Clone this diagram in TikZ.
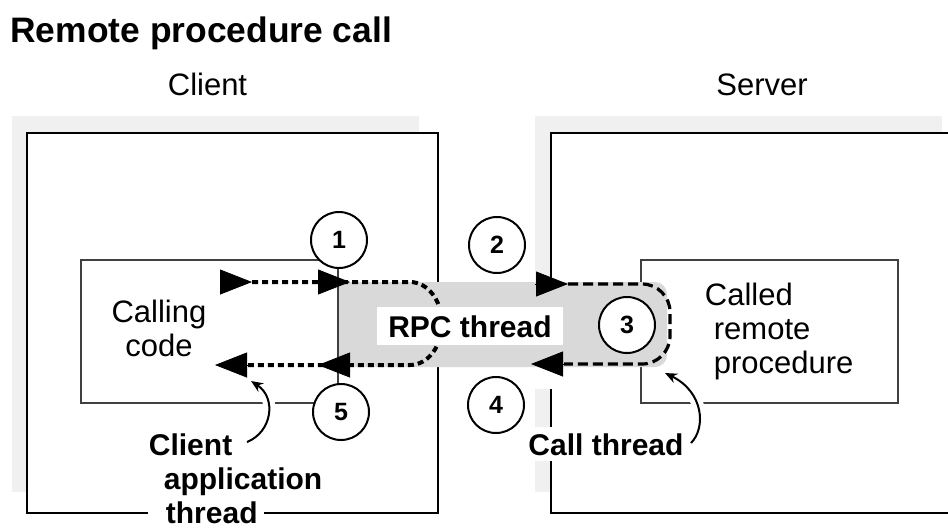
\documentclass[tikz,border=0pt]{standalone}
\usepackage{fontspec}
\setmainfont{Liberation Sans}
\usetikzlibrary{arrows.meta}

\definecolor{shadegray}{RGB}{240,240,240}
\definecolor{bandgray}{RGB}{217,217,217}
\definecolor{boxgray}{RGB}{64,64,64}

\tikzset{
  outerbox/.style={draw=black,line width=1.2pt,fill=white},
  innerbox/.style={draw=boxgray,line width=1.3pt,fill=white},
  numcircle/.style={circle,draw,line width=1pt,fill=white,minimum size=28pt,inner sep=0pt,
    font=\fontsize{12.5}{14}\selectfont\bfseries},
  plaintxt/.style={inner sep=0pt,font=\fontsize{15.5}{17}\selectfont},
  boldtxt/.style={inner sep=0pt,font=\fontsize{15}{17}\selectfont\bfseries},
  tiphead/.style={-{Triangle[length=16pt,width=12.5pt]}},
  dotline/.style={line width=2pt,dash pattern=on 3pt off 2pt},
  dashline/.style={line width=1.6pt,dash pattern=on 5pt off 2.5pt},
  pointer/.style={line width=1pt,-{Stealth[length=6pt,width=5pt]},
    preaction={draw=white,line width=6pt}}
}

\begin{document}
\begin{tikzpicture}[x=0.5pt,y=-0.5pt]
  \useasboundingbox (0,0) rectangle (948,527);
  \fill[shadegray] (12,116) rectangle (419,492);
  \fill[shadegray] (535,116) rectangle (942,492);
  \draw[outerbox] (27,133) rectangle (438,513);
  \draw[outerbox] (551,133) rectangle (970,513);
  \fill[white] (530,367) rectangle (560,389);
  \draw[innerbox] (641,260) rectangle (898,403);
  \fill[bandgray,rounded corners=6pt] (300,282) rectangle (667,367);
  \draw[innerbox] (81,260) rectangle (338,403);
  \fill[white] (148,503) rectangle (264,527);

  \coordinate (appfrom) at (247,442);
  \coordinate (appto) at (251,381);
  \coordinate (callfrom) at (691,443);
  \coordinate (callto) at (665,373);
  \draw[pointer] (appfrom) .. controls (272,432) and (277,398) .. (appto);
  \draw[pointer] (callfrom) .. controls (706,428) and (704,392) .. (callto);

  \draw[dotline] (252,282) -- (410,282) .. controls (428,282) and (442,301) .. (442,323.5)
    .. controls (442,346) and (428,365) .. (410,365) -- (248,365);
  \draw[tiphead] (220,282) -- (252,282);
  \draw[tiphead] (318,282) -- (350,282);
  \draw[tiphead] (350,365) -- (318,365);
  \draw[tiphead] (248,365) -- (215,365);

  \draw[dashline,rounded corners=14pt] (568,284) -- (670,284) -- (670,364) -- (564,364);
  \draw[tiphead] (535,284) -- (568,284);
  \draw[tiphead] (564,364) -- (531,364);

  \node[numcircle] (n1) at (339,240) {1};
  \node[numcircle] (n2) at (497,245) {2};
  \node[numcircle] (n3) at (627,325) {3};
  \node[numcircle] (n4) at (496,405) {4};
  \node[numcircle] (n5) at (341,412) {5};

  \node[boldtxt,anchor=base west,font=\fontsize{17.7}{20}\selectfont\bfseries] (title) at (10,42) {Remote procedure call};
  \node[plaintxt,anchor=base] (client) at (207.5,95) {Client};
  \node[plaintxt,anchor=base] (server) at (762,95) {Server};
  \node[plaintxt,align=center,anchor=north] (calling) at (159,300) {Calling\\code};
  \node[plaintxt,align=left,anchor=north west] (called) at (704.5,283)
    {Called\\\hspace*{4.5pt}remote\\\hspace*{4.5pt}procedure};
  \node[boldtxt,anchor=base,fill=white,inner xsep=5.5pt,inner ysep=4pt] (rpc) at (470,337) {RPC thread};
  \node[boldtxt,anchor=base,fill=white,inner sep=3pt] (callthr) at (606,455) {Call thread};
  \node[boldtxt,align=left,anchor=north west] (appthr) at (148.5,433)
    {Client\\\hspace*{7.5pt}application\\\hspace*{8.5pt}thread};
\end{tikzpicture}
\end{document}
